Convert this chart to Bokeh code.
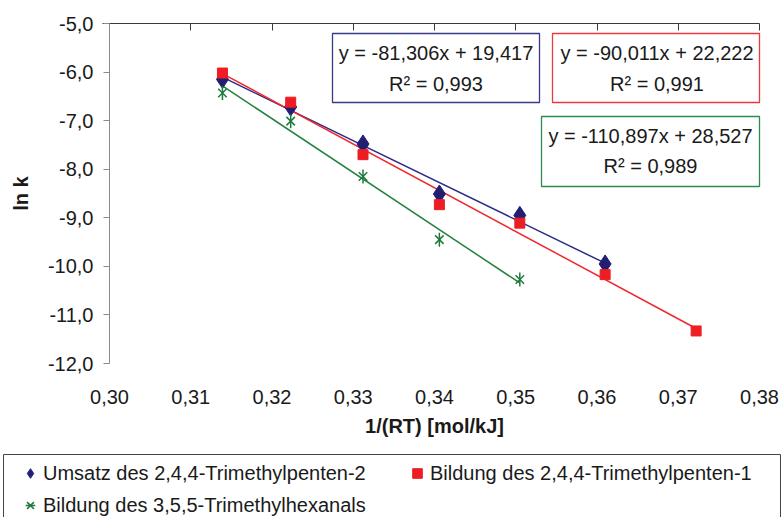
import numpy as np
from bokeh.plotting import figure
from bokeh.models import (LinearAxis, FixedTicker, Legend, LegendItem,
                          BoxAnnotation, Label, Range1d, CustomLabelingPolicy)
from bokeh.embed import file_html
from bokeh.resources import INLINE

# ---------------- data ----------------
x_umsatz = [0.3139, 0.3223, 0.3312, 0.3406, 0.3505, 0.3610]
y_umsatz = [-6.15, -6.72, -7.48, -8.51, -8.95, -9.95]

x_penten1 = [0.3139, 0.3223, 0.3312, 0.3406, 0.3505, 0.3610, 0.3722]
y_penten1 = [-6.02, -6.62, -7.70, -8.73, -9.11, -10.17, -11.33]

x_hexanal = [0.3139, 0.3223, 0.3312, 0.3406, 0.3505]
y_hexanal = [-6.43, -7.01, -8.15, -9.45, -10.27]

series_names = ["Umsatz des 2,4,4-Trimethylpenten-2",
                "Bildung des 2,4,4-Trimethylpenten-1",
                "Bildung des 3,5,5-Trimethylhexanals"]
fit_slopes = [-81.306, -90.011, -110.897]
fit_intercepts = [19.417, 22.222, 28.527]
fit_labels = ["y = -81,306x + 19,417", "y = -90,011x + 22,222", "y = -110,897x + 28,527"]
r2_labels = ["R\u00b2 = 0,993", "R\u00b2 = 0,991", "R\u00b2 = 0,989"]

x_ticks = [0.30, 0.31, 0.32, 0.33, 0.34, 0.35, 0.36, 0.37, 0.38]
x_tick_labels = ["0,30", "0,31", "0,32", "0,33", "0,34", "0,35", "0,36", "0,37", "0,38"]
y_ticks = [-5.0, -6.0, -7.0, -8.0, -9.0, -10.0, -11.0, -12.0]
y_tick_labels = ["-5,0", "-6,0", "-7,0", "-8,0", "-9,0", "-10,0", "-11,0", "-12,0"]

# ---------------- layout / styles ----------------
FONT = "Liberation Sans"
TXT = "#1a1a1a"
BLUE_M, BLUE_L = "#221f73", "#2b2b87"
RED_M, RED_L = "#ee1d23", "#f0282c"
GREEN_M, GREEN_L = "#1f7a3a", "#24803f"
W, H = 782, 517
# plot area inside the canvas (pixels): left, right, top, bottom
PL, PR, PT, PB = 109, 759, 23, 363
xmin, xmax = x_ticks[0], x_ticks[-1]
ymax, ymin = y_ticks[0], y_ticks[-1]
kx = (PR - PL) / (xmax - xmin)
ky = (PB - PT) / (ymax - ymin)
x_range = Range1d(xmin - PL / kx, xmax + (W - PR) / kx)
y_range = Range1d(ymin - (H - PB) / ky, ymax + PT / ky)


def dx(px):  # canvas pixel -> data x
    return xmin + (px - PL) / kx


def dy(py):  # canvas pixel -> data y
    return ymax - (py - PT) / ky


p = figure(width=W, height=H, x_range=x_range, y_range=y_range,
           output_backend="svg", toolbar_location=None,
           min_border_left=0, min_border_right=0, min_border_top=0, min_border_bottom=0)
p.outline_line_color = None
p.xgrid.visible = False
p.ygrid.visible = False
p.background_fill_color = "white"
p.border_fill_color = "white"

# bottom axis: labels only, drawn at y = -12
xa = p.xaxis[0]
xa.fixed_location = ymin
xa.bounds = (xmin, xmax)
xa.ticker = FixedTicker(ticks=x_ticks)
xa.major_label_overrides = {t: l for t, l in zip(x_ticks, x_tick_labels)}
xa.axis_line_color = None
xa.major_tick_line_color = None
xa.minor_tick_line_color = None
xa.major_tick_in = 0
xa.major_tick_out = 0
xa.major_label_standoff = 26
xa.major_label_text_font = FONT
xa.major_label_text_font_size = "20px"
xa.major_label_text_color = TXT
xa.axis_label = "1/(RT) [mol/kJ]"
xa.axis_label_text_font = FONT
xa.axis_label_text_font_style = "bold"
xa.axis_label_text_font_size = "20px"
xa.axis_label_text_color = TXT
xa.axis_label_standoff = 8

# left axis at x = 0.30
ya = p.yaxis[0]
ya.fixed_location = xmin
ya.bounds = (ymin, ymax)
ya.ticker = FixedTicker(ticks=y_ticks)
ya.major_label_overrides = {t: l for t, l in zip(y_ticks, y_tick_labels)}
ya.axis_line_color = "#8a8a8a"
ya.major_tick_line_color = "#8a8a8a"
ya.minor_tick_line_color = None
ya.major_tick_in = 0
ya.major_tick_out = 6
ya.major_label_standoff = 10
ya.major_label_text_font = FONT
ya.major_label_text_font_size = "20px"
ya.major_label_text_color = TXT
ya.axis_label = "ln k"
ya.axis_label_text_font = FONT
ya.axis_label_text_font_style = "bold"
ya.axis_label_text_font_size = "20px"
ya.axis_label_text_color = TXT
ya.axis_label_standoff = 13

# top axis line at y = -5 with inward ticks, no labels
hide_code = """
try { for (let i = 0; i < indices.size; i++) indices.unset(i) }
catch (e) { try { for (let i = 0; i < indices.size; i++) indices.set(i, false) } catch (e2) {} }
return indices
"""
top = LinearAxis(ticker=FixedTicker(ticks=x_ticks), fixed_location=ymax, bounds=(dx(PL - 7), xmax),
                 major_label_text_font_size="1px",
                 major_label_policy=CustomLabelingPolicy(code=hide_code),
                 major_tick_in=7, major_tick_out=0, minor_tick_line_color=None,
                 axis_line_color="#3a3a3a", major_tick_line_color="#3a3a3a",
                 major_label_standoff=0)
p.add_layout(top, "above")

# trendlines
xs_all = [x_umsatz, x_penten1, x_hexanal]
line_cols = [BLUE_L, RED_L, GREEN_L]
for xs, m, b, c in zip(xs_all, fit_slopes, fit_intercepts, line_cols):
    xx = np.array([min(xs), max(xs)])
    p.line(xx, m * xx + b, line_color=c, line_width=1.5)

# markers
r_blue = p.scatter(x_umsatz, y_umsatz, marker="diamond", size=18, fill_color=BLUE_M, line_color=BLUE_M)
r_red = p.scatter(x_penten1, y_penten1, marker="square", size=10, fill_color=RED_M, line_color=RED_M)
r_gx = p.scatter(x_hexanal, y_hexanal, marker="x", size=12, line_color=GREEN_M, line_width=1.5)
r_gd = p.scatter(x_hexanal, y_hexanal, marker="dash", angle=np.pi / 2, size=14,
                 line_color=GREEN_M, line_width=1.5)

# equation boxes (pixel positions of the reference layout)
boxes = [
    dict(l=332, r=539, t=33, b=102, cx=435.5, y1=52, y2=83, col="#3a3a8c"),
    dict(l=552, r=759, t=33, b=102, cx=656.5, y1=52, y2=83, col="#ec3a3c"),
    dict(l=541, r=759, t=116, b=186, cx=650.0, y1=135, y2=165, col="#2e8a4e"),
]
for bx, f, r2 in zip(boxes, fit_labels, r2_labels):
    p.add_layout(BoxAnnotation(left=dx(bx["l"]), right=dx(bx["r"]), top=dy(bx["t"]), bottom=dy(bx["b"]),
                               fill_color="white", fill_alpha=1.0, line_color=bx["col"],
                               line_alpha=1.0, line_width=1.3))
    for txt, yy in ((f, bx["y1"]), (r2, bx["y2"])):
        p.add_layout(Label(x=dx(bx["cx"]), y=dy(yy), text=txt, text_align="center", text_baseline="middle",
                           text_font=FONT, text_font_size="20px", text_color=TXT))

# legend frame
p.add_layout(BoxAnnotation(left=dx(3), right=dx(780), top=dy(454), bottom=dy(530),
                           fill_color="white", fill_alpha=1.0, line_color="#444444",
                           line_alpha=1.0, line_width=1))

common = dict(margin=0, padding=0, glyph_width=26, glyph_height=24, label_height=24,
              label_standoff=0, label_text_font=FONT, label_text_font_size="20px",
              label_text_color=TXT, label_text_baseline="middle",
              border_line_color=None, background_fill_alpha=0.0)
LEG_TOP = 461
legA = Legend(items=[LegendItem(label=series_names[0], renderers=[r_blue]),
                     LegendItem(label=series_names[2], renderers=[r_gx, r_gd])],
              location=(17, H - LEG_TOP - 56), spacing=8, **common)
legB = Legend(items=[LegendItem(label=series_names[1], renderers=[r_red])],
              location=(404, H - LEG_TOP - 24), spacing=8, **common)
p.add_layout(legA, "center")
p.add_layout(legB, "center")

open("out.html", "w").write(file_html(p, INLINE))
